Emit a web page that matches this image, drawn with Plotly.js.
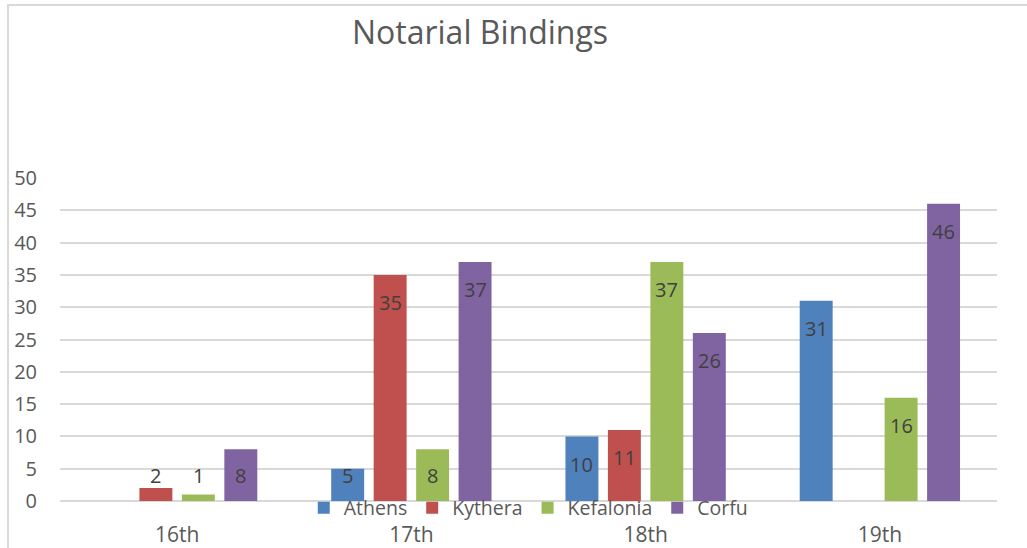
<!DOCTYPE html>
<html>
<head>
<meta charset="utf-8">
<script src="https://cdn.plot.ly/plotly-3.0.1.min.js"></script>
<style>
html,body{margin:0;padding:0;background:#fff;}
#wrap{position:relative;width:1027px;height:548px;overflow:hidden;}
#chart{position:absolute;left:0;top:0;width:1027px;height:548px;}
#frame{position:absolute;left:7px;top:4px;width:1040px;height:560px;border-top:2px solid #d9d9d9;border-left:2px solid #d9d9d9;pointer-events:none;}
</style>
</head>
<body>
<div id="wrap"><div id="chart"></div><div id="frame"></div></div>
<script>
const categories = ["16th", "17th", "18th", "19th"];
const seriesNames = ["Athens", "Kythera", "Kefalonia", "Corfu"];
const athens    = [null, 5, 10, 31];
const kythera   = [2, 35, 11, null];
const kefalonia = [1, 8, 37, 16];
const corfu     = [8, 37, 26, 46];
const yTicks = [0, 5, 10, 15, 20, 25, 30, 35, 40, 45, 50];

const colors = ["#4F81BD", "#C0504D", "#9BBB59", "#8064A2"];
const allSeries = [athens, kythera, kefalonia, corfu];
const FONT = "Open Sans, sans-serif";

const traces = allSeries.map((vals, j) => ({
  type: "bar",
  name: seriesNames[j],
  x: categories,
  y: vals,
  marker: {color: colors[j]},
  hoverinfo: "x+y+name"
}));

const slot = 42.5;
const annotations = [];
allSeries.forEach((vals, j) => {
  vals.forEach((v, i) => {
    if (v === null || v === undefined) return;
    annotations.push({
      x: categories[i], xref: "x",
      y: Math.max(v - 4.3, 3.9), yref: "y",
      xshift: (j - 1.5) * slot,
      text: String(v),
      showarrow: false,
      xanchor: "center", yanchor: "middle",
      font: {family: FONT, size: 20, color: "#404040"}
    });
  });
});

const layout = {
  width: 1027, height: 548,
  margin: {l: 59.5, r: 30, t: 178, b: 46.5},
  paper_bgcolor: "#ffffff",
  plot_bgcolor: "#ffffff",
  barmode: "group",
  bargap: 0.275,
  bargroupgap: 0.224,
  showlegend: true,
  title: {
    text: "Notarial Bindings",
    font: {family: FONT, size: 32, color: "#595959"},
    x: 480 / 1027, xref: "container", xanchor: "center",
    y: 1 - 33 / 548, yref: "container", yanchor: "middle"
  },
  xaxis: {
    type: "category",
    tickfont: {family: FONT, size: 21, color: "#595959"},
    showgrid: false,
    showline: false,
    zeroline: false,
    ticks: "",
    ticklabelstandoff: 19
  },
  yaxis: {
    range: [0, 50],
    tickvals: yTicks,
    ticktext: yTicks.map(String),
    tickfont: {family: FONT, size: 20, color: "#595959"},
    showgrid: true,
    gridcolor: "#d9d9d9",
    gridwidth: 2,
    zeroline: true,
    zerolinecolor: "#d9d9d9",
    zerolinewidth: 2,
    showline: false,
    ticks: "",
    ticklabelstandoff: 22,
    fixedrange: true
  },
  legend: {
    orientation: "h",
    x: (528 - 59.5) / 937.5, xref: "paper", xanchor: "center",
    y: -0.022, yanchor: "middle",
    font: {family: FONT, size: 19.5, color: "#595959"},
    bgcolor: "rgba(0,0,0,0)",
    itemclick: false
  },
  annotations: annotations
};

Plotly.newPlot("chart", traces, layout, {displayModeBar: false, staticPlot: true});
</script>
</body>
</html>
